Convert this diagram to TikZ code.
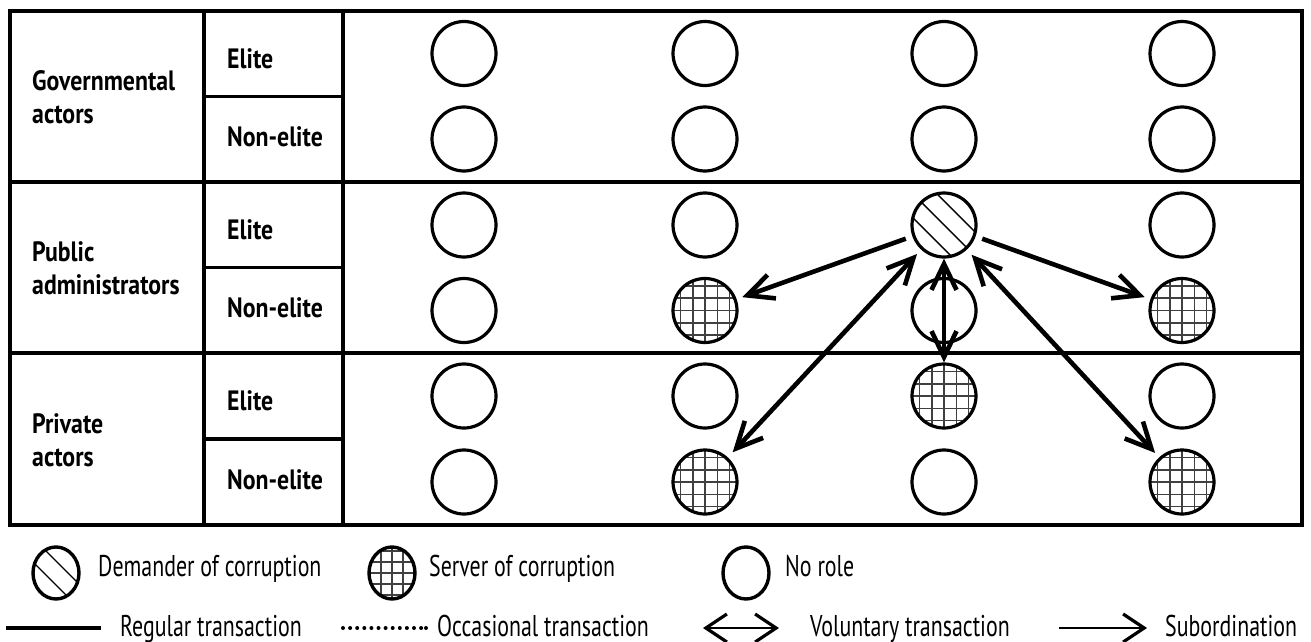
\documentclass[tikz,border=0pt]{standalone}
\usepackage{fontspec}
\newfontfamily\lblfont{PT Sans}[FakeStretch=0.85]
\newfontfamily\legfont{PT Sans}[FakeStretch=0.73]
\usetikzlibrary{arrows.meta,shapes.geometric}
\begin{document}
\begin{tikzpicture}[x=1pt,y=-1pt,
  frame/.style={line width=3.2pt},
  circ/.style={circle,draw,line width=3.2pt,minimum size=64pt,inner sep=0pt},
  gridfill/.style={path picture={\begin{scope}[shift={(path picture bounding box.center)}]
      \foreach \d in {-3,...,3}{
        \draw[line width=1.6pt,black!75] (\d*#1,-45)--(\d*#1,45);
        \draw[line width=1.6pt,black!75] (-45,\d*#1)--(45,\d*#1);}
    \end{scope}}},
  hatch/.style={path picture={\begin{scope}[shift={(path picture bounding box.center)}]
      \foreach \s in {#1}{\draw[line width=1.4pt] (\s-50,-50)--(\s+50,50);}
    \end{scope}}},
  server/.style={circ,gridfill=12.3},
  demander/.style={circ,hatch={-24,0,24}},
  legcirc/.style={ellipse,draw,line width=3.4pt,minimum width=46pt,minimum height=52pt,inner sep=0pt},
  conn/.style={line width=4.6pt,shorten <=7pt,shorten >=6pt,
     >={Straight Barb[length=26pt,width=25pt]}},
  lbl/.style={font=\lblfont\bfseries\fontsize{28}{32}\selectfont,anchor=base west,inner sep=0pt},
  leg/.style={font=\legfont\fontsize{30}{34}\selectfont,anchor=base west,inner sep=0pt},
  legarrow/.style={line width=1.8pt,>={Straight Barb[length=21pt,width=28pt,line width=3.2pt]}},
]
\useasboundingbox (0,0) rectangle (1311,642);

% table frame
\draw[frame] (10,11) rectangle (1302,525);
\draw[frame] (204,11) -- (204,525);
\draw[frame] (343,11) -- (343,525);
\draw[frame] (10,182) -- (1302,182);
\draw[frame] (10,353) -- (1302,353);
\draw[frame] (204,96.5) -- (343,96.5);
\draw[frame] (204,267.5) -- (343,267.5);
\draw[frame] (204,439) -- (343,439);

% row labels
\node[lbl] (g1) at (32,90) {Governmental};
\node[lbl] (g2) at (32,123) {actors};
\node[lbl] (p1) at (32,261) {Public};
\node[lbl] (p2) at (32,294) {administrators};
\node[lbl] (v1) at (32,433) {Private};
\node[lbl] (v2) at (32,466) {actors};
\node[lbl] (e1) at (227,68) {Elite};
\node[lbl] (ne1) at (227,146) {Non-elite};
\node[lbl] (e2) at (227,239.5) {Elite};
\node[lbl] (ne2) at (227,317.5) {Non-elite};
\node[lbl] (e3) at (227,410.5) {Elite};
\node[lbl] (ne3) at (227,489) {Non-elite};

% circles
\foreach \n/\x/\y in {n11/464/53.5,n12/705/53.5,n13/944/53.5,n14/1182/53.5,
  n21/464/139,n22/705/139,n23/944/139,n24/1182/139,
  n31/464/225,n32/705/225,n34/1182/225,
  n41/464/310.5,n43/944/310.5,
  n51/464/396,n52/705/396,n54/1182/396,
  n61/464/482,n63/944/482}
  \node[circ] (\n) at (\x,\y) {};
\foreach \n/\x/\y in {n42/705/310.5,n44/1182/310.5,n53/944/396,n62/705/482,n64/1182/482}
  \node[server] (\n) at (\x,\y) {};
\node[demander] (n33) at (944,225) {};

% connectors
\draw[conn,->] (n33) -- (n42);
\draw[conn,->] (n33) -- (n44);
\draw[conn,<->] (n62) -- (n33);
\draw[conn,<->] (n33) -- (n64);
\draw[conn,<->,shorten <=0pt,shorten >=0pt] (n33) -- (n53);

% legend row 1
\node[legcirc,hatch={-12,12}] (ld) at (56,573) {};
\node[leg] (tdem) at (98,576) {Demander of corruption};
\node[legcirc,gridfill=11] (ls) at (392,573) {};
\node[leg] (tsrv) at (429,576) {Server of corruption};
\node[legcirc] (ln) at (746,573) {};
\node[leg] (tnone) at (785,576) {No role};

% legend row 2
\coordinate (ra) at (6,628);
\coordinate (rb) at (101,628);
\draw[line width=4.2pt] (ra) -- (rb);
\node[leg] (treg) at (120,636) {Regular transaction};
\coordinate (oa) at (343,628);
\coordinate (ob) at (422,628);
\coordinate (oc) at (426,628);
\draw[line width=4pt,line cap=round,dash pattern=on 0pt off 7.1pt] (oa) -- (ob);
\draw[line width=4pt,line cap=round] (oc) -- (oc);
\node[leg] (tocc) at (437,636) {Occasional transaction};
\coordinate (va) at (703,628);
\coordinate (vb) at (779,628);
\draw[legarrow,<->] (va) -- (vb);
\node[leg] (tvol) at (810,636) {Voluntary transaction};
\coordinate (sa) at (1059,628);
\coordinate (sb) at (1147,628);
\draw[legarrow,->] (sa) -- (sb);
\node[leg] (tsub) at (1165,636) {Subordination};
\end{tikzpicture}
\end{document}
